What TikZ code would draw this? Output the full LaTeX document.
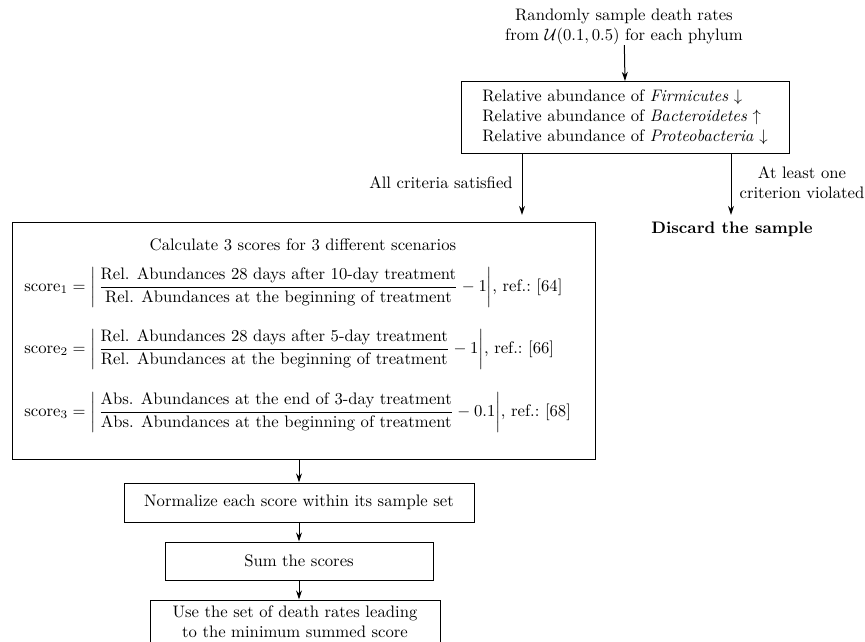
\documentclass[tikz,border=0pt]{standalone}
\usepackage{amsmath}
\usetikzlibrary{arrows.meta}
\tikzset{
  boxnode/.style={draw, line width=0.6pt, inner sep=0pt},
  txt/.style={inner sep=0pt, align=center},
  arr/.style={-{Stealth[length=5.5pt,width=3.6pt]}, line width=0.6pt},
}
\begin{document}
\begin{tikzpicture}[x=0.6pt,y=-0.6pt]
\useasboundingbox (0,0) rectangle (865,641);
\clip (0,0) rectangle (865,641);
% top text
\node[txt] (src) at (624,27) {Randomly sample death rates\\from $\mathcal{U}(0.1,0.5)$ for each phylum};
% criteria box
\node[boxnode, minimum width=196.8pt, minimum height=43.2pt, align=left] (crit) at (625,117.5)
  {Relative abundance of \textit{Firmicutes} $\downarrow$\\
   Relative abundance of \textit{Bacteroidetes} $\uparrow$\\
   Relative abundance of \textit{Proteobacteria} $\downarrow$};
\draw[arr] (src) -- (crit.north);
% branches
\coordinate (okend) at (522,215);
\coordinate (badend) at (731,215);
\draw[arr] (okend |- crit.south) -- (okend);
\draw[arr] (badend |- crit.south) -- (badend);
\node[txt, anchor=east] (oklab) at (513,183) {All criteria satisfied};
\node[txt] (badlab) at (802,183) {At least one\\criterion violated};
\node[txt] (discard) at (732,229) {\textbf{Discard the sample}};
% big box
\node[boxnode, minimum width=349.8pt, minimum height=142.2pt] (big) at (303.5,340.5) {};
\node[txt] (title) at (303,245) {Calculate 3 scores for 3 different scenarios};
\node[txt, anchor=west] (s1) at (24,287)
  {$\mathrm{score}_1=\left|\,\dfrac{\text{Rel. Abundances 28 days after 10-day treatment}}{\text{Rel. Abundances at the beginning of treatment}}-1\right|$, ref.:\ [64]};
\node[txt, anchor=west] (s2) at (24,349)
  {$\mathrm{score}_2=\left|\,\dfrac{\text{Rel. Abundances 28 days after 5-day treatment}}{\text{Rel. Abundances at the beginning of treatment}}-1\right|$, ref.:\ [66]};
\node[txt, anchor=west] (s3) at (24,412)
  {$\mathrm{score}_3=\left|\,\dfrac{\text{Abs. Abundances at the end of 3-day treatment}}{\text{Abs. Abundances at the beginning of treatment}}-0.1\right|$, ref.:\ [68]};
% lower chain
\node[boxnode, minimum width=210pt, minimum height=23.4pt] (norm) at (299,502.5) {Normalize each score within its sample set};
\node[boxnode, minimum width=160.8pt, minimum height=22.8pt] (sum) at (299,561) {Sum the scores};
\node[boxnode, minimum width=174pt, minimum height=25.8pt, align=center] (last) at (295,621.5)
  {Use the set of death rates leading\\to the minimum summed score};
\draw[arr] (norm.north |- big.south) -- (norm.north);
\draw[arr] (norm.south) -- (sum.north);
\draw[arr] (sum.south) -- (sum.south |- last.north);
\end{tikzpicture}
\end{document}
